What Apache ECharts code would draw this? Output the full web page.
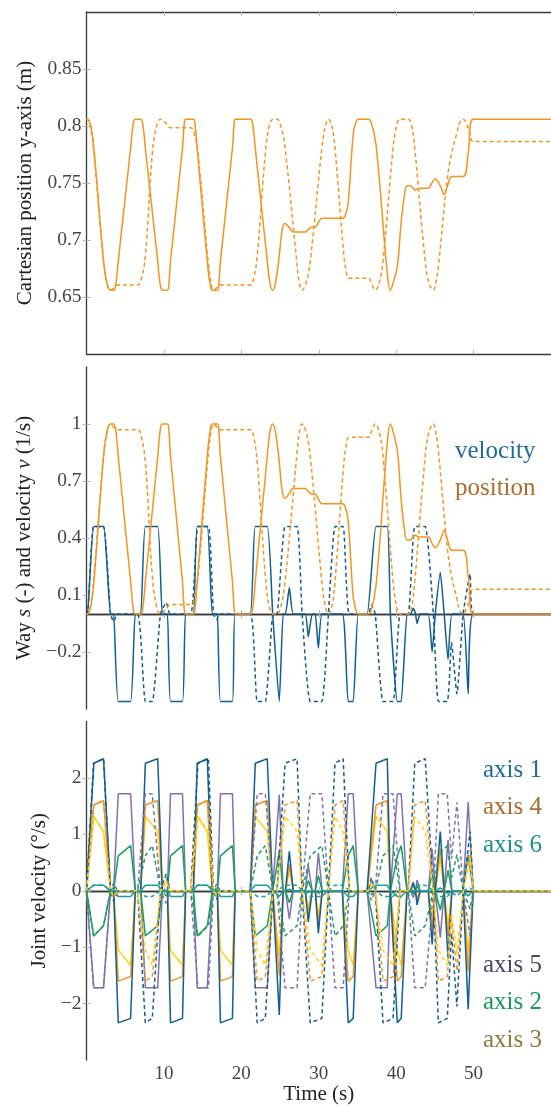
<!DOCTYPE html>
<html>
<head>
<meta charset="utf-8">
<script src="https://cdn.jsdelivr.net/npm/echarts@6/dist/echarts.min.js"></script>
<style>
html,body{margin:0;padding:0;background:#fff;}
#chart{width:551px;height:1106px;}
</style>
</head>
<body>
<div id="chart"></div>
<script>
// ---------- tick labels ----------
const X_TICKS = [10, 20, 30, 40, 50];
const Y1_TICKS = [0.65, 0.7, 0.75, 0.8, 0.85];
const Y2_TICKS = [-0.2, 0.1, 0.4, 0.7, 1];
const Y3_TICKS = [-2, -1, 0, 1, 2];

// ---------- panel 1 & 2: position (solid) ----------
const T_POS_SOLID = [0, 0.13, 0.55, 0.95, 2.2, 2.65, 3.1, 3.5, 3.8, 4.1, 5.7, 6.0, 6.3, 7.0, 7.3, 7.6, 9.2, 9.5, 9.8, 10.45, 10.65, 10.85, 12.4, 12.6, 12.8, 13.8, 14.05, 14.3, 15.6, 15.95, 16.25, 16.9, 17.1, 17.3, 18.85, 19.05, 19.2, 21.15, 21.5, 21.8, 23.35, 23.7, 24.05, 24.4, 24.9, 25.2, 25.55, 25.75, 26.2, 26.7, 28.25, 28.65, 29.15, 29.55, 29.95, 30.45, 33.05, 33.45, 33.8, 34.45, 34.8, 35.1, 36.25, 36.7, 37.4, 38.85, 39.25, 39.6, 40.15, 40.65, 41.05, 41.4, 41.85, 42.2, 42.5, 42.7, 43.1, 44.15, 44.65, 45.05, 45.7, 46.2, 46.7, 47.2, 48.65, 49.3, 49.95, 60];
const S_SOLID = [0, 0, 0.04, 0.17, 0.83, 0.96, 1, 1, 0.96, 0.83, 0.17, 0.04, 0, 0, 0.04, 0.17, 0.83, 0.96, 1, 1, 0.96, 0.83, 0.17, 0.04, 0, 0, 0.04, 0.17, 0.83, 0.96, 1, 1, 0.96, 0.83, 0.17, 0.04, 0, 0, 0.04, 0.17, 0.83, 0.96, 1, 0.96, 0.8, 0.67, 0.61, 0.612, 0.635, 0.66, 0.66, 0.645, 0.63, 0.63, 0.605, 0.58, 0.58, 0.56, 0.49, 0.09, 0.02, 0, 0, 0.01, 0.15, 0.9, 1, 0.96, 0.86, 0.6, 0.45, 0.39, 0.39, 0.405, 0.415, 0.41, 0.405, 0.405, 0.37, 0.35, 0.39, 0.44, 0.38, 0.335, 0.335, 0.2, 0, 0];
const Y_SOLID = [0.806, 0.806, 0.8, 0.7805, 0.6815, 0.662, 0.656, 0.656, 0.662, 0.6815, 0.7805, 0.8, 0.806, 0.806, 0.8, 0.7805, 0.6815, 0.662, 0.656, 0.656, 0.662, 0.6815, 0.7805, 0.8, 0.806, 0.806, 0.8, 0.7805, 0.6815, 0.662, 0.656, 0.656, 0.662, 0.6815, 0.7805, 0.8, 0.806, 0.806, 0.8, 0.7805, 0.6815, 0.662, 0.656, 0.662, 0.686, 0.7055, 0.7145, 0.7142, 0.7108, 0.707, 0.707, 0.7093, 0.7115, 0.7115, 0.7153, 0.719, 0.719, 0.722, 0.7325, 0.7925, 0.803, 0.806, 0.806, 0.8045, 0.7835, 0.671, 0.656, 0.662, 0.677, 0.716, 0.7385, 0.7475, 0.7475, 0.7453, 0.7438, 0.7445, 0.7453, 0.7453, 0.7505, 0.7535, 0.7475, 0.74, 0.749, 0.7558, 0.7558, 0.776, 0.806, 0.806];

// ---------- panel 1 & 2: position (dashed) ----------
const T_POS_DASH = [0, 0.13, 0.5, 0.9, 2.2, 2.65, 3.1, 3.5, 4.0, 6.6, 7.1, 7.6, 8.5, 9.05, 9.55, 10.3, 10.8, 13.45, 13.95, 14.4, 15.75, 16.1, 16.4, 16.8, 17.3, 21.15, 21.6, 22.05, 23.1, 23.6, 24.1, 24.6, 25.1, 25.65, 27.2, 27.5, 27.85, 28.35, 28.9, 30.4, 30.85, 31.25, 31.7, 32.1, 33.15, 33.55, 33.95, 36.4, 36.8, 37.3, 37.8, 38.3, 39.6, 40.05, 40.5, 41.55, 42.0, 42.4, 43.75, 44.25, 44.8, 45.1, 45.45, 46.6, 47.15, 47.85, 48.2, 48.65, 49.1, 49.55, 49.95, 60];
const S_DASH = [0, 0, 0.04, 0.17, 0.83, 0.96, 1, 0.985, 0.97, 0.97, 0.93, 0.8, 0.2, 0.04, 0, 0.025, 0.05, 0.05, 0.09, 0.2, 0.85, 0.96, 1, 0.985, 0.97, 0.97, 0.93, 0.8, 0.2, 0.04, 0, 0, 0.04, 0.17, 0.85, 0.96, 1, 0.96, 0.83, 0.17, 0.04, 0, 0.04, 0.17, 0.75, 0.89, 0.93, 0.93, 0.96, 1, 0.96, 0.83, 0.17, 0.04, 0, 0, 0.04, 0.17, 0.83, 0.96, 1, 0.96, 0.86, 0.35, 0.2, 0.08, 0.02, 0, 0.03, 0.09, 0.13, 0.13];
const Y_DASH = [0.806, 0.806, 0.8, 0.7805, 0.6815, 0.662, 0.656, 0.658, 0.6605, 0.6605, 0.6665, 0.686, 0.776, 0.8, 0.806, 0.8023, 0.7985, 0.7985, 0.7925, 0.776, 0.6785, 0.662, 0.656, 0.658, 0.6605, 0.6605, 0.6665, 0.686, 0.776, 0.8, 0.806, 0.806, 0.8, 0.7805, 0.6785, 0.662, 0.656, 0.662, 0.6815, 0.7805, 0.8, 0.806, 0.8, 0.7805, 0.6935, 0.6725, 0.6665, 0.6665, 0.662, 0.656, 0.662, 0.6815, 0.7805, 0.8, 0.806, 0.806, 0.8, 0.7805, 0.6815, 0.662, 0.656, 0.662, 0.677, 0.7535, 0.776, 0.794, 0.803, 0.806, 0.8015, 0.7925, 0.7865, 0.7865];

// ---------- velocity & joint velocities (solid) ----------
const T_SOLID = [0, 0.13, 0.95, 2.2, 3.1, 3.5, 4.1, 5.7, 6.3, 7.0, 7.6, 9.2, 9.8, 10.45, 10.85, 12.4, 12.8, 13.8, 14.3, 15.6, 16.25, 16.9, 17.3, 18.85, 19.2, 21.15, 21.8, 23.35, 24.05, 24.9, 25.4, 25.7, 26.2, 26.7, 28.25, 28.65, 29.15, 29.55, 29.95, 30.45, 33.05, 33.8, 34.45, 35.1, 36.25, 37.4, 38.85, 39.25, 40.15, 40.65, 41.4, 41.85, 42.2, 42.5, 42.7, 43.1, 44.15, 44.65, 45.05, 45.7, 46.2, 46.7, 47.2, 48.65, 49.3, 49.95, 60];
const V_SOLID = [0,0,0.46,0.46,0,0,-0.46,-0.46,0,0, 0.46,0.46,0,0,-0.46,-0.46,0,0,0.46,0.46, 0,0,-0.46,-0.46,0,0,0.46,0.46,0,-0.46, 0,0,0.14,0,0,-0.12,0,0,-0.18,0, 0,-0.46,-0.46,0,0,0.46,0.46,0,-0.46,-0.46, 0,0,0.03,0,-0.05,0,0,-0.2,0,0.22, 0,-0.24,0,0,-0.42,0,0];
const AX1_SOLID = [0,0,2.26,2.34,0,0,-2.34,-2.26,0,0, 2.26,2.34,0,0,-2.34,-2.26,0,0,2.26,2.34, 0,0,-2.34,-2.26,0,0,2.26,2.34,0,-2.2, 0,0,0.7,0,0,-0.55,0,0,-0.75,0, 0,-2.34,-2.26,0,0,2.26,2.34,0,-2.34,-2.26, 0,0,0.15,0,-0.25,0,0,-0.95,0,1.05, 0,-1.2,0,0,-2.1,0,0];
const AX2_SOLID = [0,0,-0.8,-0.62,0,0,0.62,0.8,0,0, -0.8,-0.62,0,0,0.62,0.8,0,0,-0.8,-0.62, 0,0,0.62,0.8,0,0,-0.8,-0.62,0,0.7, 0,0,-0.21,0,0,0.18,0,0,0.27,0, 0,0.62,0.8,0,0,-0.8,-0.62,0,0.62,0.8, 0,0,-0.05,0,0.08,0,0,0.3,0,-0.34, 0,0.36,0,0,0.64,0,0];
const AX3_SOLID = [0,0,1.32,1.05,0,0,-1.05,-1.32,0,0, 1.32,1.05,0,0,-1.05,-1.32,0,0,1.32,1.05, 0,0,-1.05,-1.32,0,0,1.32,1.05,0,-1.15, 0,0,0.36,0,0,-0.3,0,0,-0.45,0, 0,-1.05,-1.32,0,0,1.32,1.05,0,-1.05,-1.32, 0,0,0.08,0,-0.13,0,0,-0.5,0,0.58, 0,-0.62,0,0,-1.1,0,0];
const AX4_SOLID = [0,0,1.52,1.6,0,0,-1.6,-1.52,0,0, 1.52,1.6,0,0,-1.6,-1.52,0,0,1.52,1.6, 0,0,-1.6,-1.52,0,0,1.52,1.6,0,-1.5, 0,0,0.47,0,0,-0.4,0,0,-0.6,0, 0,-1.6,-1.52,0,0,1.52,1.6,0,-1.6,-1.52, 0,0,0.1,0,-0.17,0,0,-0.67,0,0.75, 0,-0.8,0,0,-1.42,0,0];
const AX5_SOLID = [0,0,-1.72,-1.72,0,0,1.72,1.72,0,0, -1.72,-1.72,0,0,1.72,1.72,0,0,-1.72,-1.72, 0,0,1.72,1.72,0,0,-1.72,-1.72,0,1.7, 0,0,-0.5,0,0,0.45,0,0,0.67,0, 0,1.72,1.72,0,0,-1.72,-1.72,0,1.72,1.72, 0,0,-0.12,0,0.19,0,0,0.74,0,-0.83, 0,0.9,0,0,1.57,0,0];
const AX6_SOLID = [0,0,0.1,0.1,0,0,-0.1,-0.1,0,0, 0.1,0.1,0,0,-0.1,-0.1,0,0,0.1,0.1, 0,0,-0.1,-0.1,0,0,0.1,0.1,0,-0.1, 0,0,0.03,0,0,-0.03,0,0,-0.04,0, 0,-0.1,-0.1,0,0,0.1,0.1,0,-0.1,-0.1, 0,0,0,0,0,0,0,-0.04,0,0.05, 0,-0.05,0,0,-0.09,0,0];

// ---------- velocity & joint velocities (dashed) ----------
const T_DASH = [0, 0.13, 0.9, 2.2, 3.1, 3.5, 4.0, 6.6, 7.6, 8.5, 9.55, 10.3, 10.8, 13.45, 14.4, 15.75, 16.4, 16.8, 17.3, 21.15, 22.05, 23.1, 24.1, 24.6, 25.65, 27.2, 27.85, 28.9, 30.4, 31.25, 32.1, 33.15, 33.95, 36.4, 36.8, 37.3, 38.3, 39.6, 40.5, 41.55, 42.4, 43.75, 44.8, 45.45, 46.6, 47.15, 47.85, 48.65, 49.55, 49.95, 60];
const V_DASH = [0,0,0.46,0.46,0,-0.04,0,0,-0.46,-0.46, 0,0.06,0,0,0.46,0.46,0,-0.03,0,0, -0.46,-0.46,0,0,0.46,0.46,0,-0.46,-0.46,0, 0.46,0.46,0,0,0.05,0,-0.46,-0.46,0,0, 0.46,0.46,0,-0.46,-0.46,-0.15,-0.42,0,0.21,0, 0];
const AX1_DASH = [0,0,2.26,2.34,0,-0.18,0,0,-2.34,-2.26, 0,0.3,0,0,2.26,2.34,0,-0.15,0,0, -2.34,-2.26,0,0,2.26,2.34,0,-2.34,-2.26,0, 2.26,2.34,0,0,0.23,0,-2.34,-2.26,0,0, 2.26,2.34,0,-2.34,-2.26,-0.75,-2.05,0,1.05,0, 0];
const AX2_DASH = [0,0,-0.8,-0.62,0,0.06,0,0,0.62,0.8, 0,-0.09,0,0,-0.8,-0.62,0,0.05,0,0, 0.62,0.8,0,0,-0.8,-0.62,0,0.62,0.8,0, -0.8,-0.62,0,0,-0.07,0,0.62,0.8,0,0, -0.8,-0.62,0,0.62,0.8,0.23,0.64,0,-0.32,0, 0];
const AX3_DASH = [0,0,1.32,1.05,0,-0.1,0,0,-1.05,-1.32, 0,0.16,0,0,1.32,1.05,0,-0.08,0,0, -1.05,-1.32,0,0,1.32,1.05,0,-1.05,-1.32,0, 1.32,1.05,0,0,0.12,0,-1.05,-1.32,0,0, 1.32,1.05,0,-1.05,-1.32,-0.4,-1.1,0,0.55,0, 0];
const AX4_DASH = [0,0,1.52,1.6,0,-0.12,0,0,-1.6,-1.52, 0,0.2,0,0,1.52,1.6,0,-0.1,0,0, -1.6,-1.52,0,0,1.52,1.6,0,-1.6,-1.52,0, 1.52,1.6,0,0,0.16,0,-1.6,-1.52,0,0, 1.52,1.6,0,-1.6,-1.52,-0.5,-1.42,0,0.72,0, 0];
const AX5_DASH = [0,0,-1.72,-1.72,0,0.14,0,0,1.72,1.72, 0,-0.22,0,0,-1.72,-1.72,0,0.12,0,0, 1.72,1.72,0,0,-1.72,-1.72,0,1.72,1.72,0, -1.72,-1.72,0,0,-0.17,0,1.72,1.72,0,0, -1.72,-1.72,0,1.72,1.72,0.57,1.57,0,-0.8,0, 0];
const AX6_DASH = [0,0,0.1,0.1,0,0,0,0,-0.1,-0.1, 0,0.01,0,0,0.1,0.1,0,0,0,0, -0.1,-0.1,0,0,0.1,0.1,0,-0.1,-0.1,0, 0.1,0.1,0,0,0.01,0,-0.1,-0.1,0,0, 0.1,0.1,0,-0.1,-0.1,-0.03,-0.09,0,0.05,0, 0];

// ---------- styling ----------
const FONT = '"Liberation Serif", "DejaVu Serif", serif';
const C = {
  orange: '#f7941d', blue: '#0f5e94', yellow: '#fdd31c', green: '#19a05a',
  purple: '#7e72b5', teal: '#1a9f9f'
};
const DASH = [4, 3];

function pairs(t, v) { return t.map((x, i) => [x, v[i]]); }
function fmt(v) { return String(v).replace('-', '\u2212'); }

const GRID_LEFT = 86.5, GRID_W = 465;
const grids = [
  { left: GRID_LEFT, top: 12, width: GRID_W, height: 342 },
  { left: GRID_LEFT, top: 367, width: GRID_W, height: 342 },
  { left: GRID_LEFT, top: 721.5, width: GRID_W, height: 342 }
];

const axisLineStyle = { color: '#3a3a3a', width: 1.3 };
const tickStyle = { color: '#b4b4b4', width: 1 };

function xAxes(gi, showLabels) {
  return [
    {
      type: 'value', gridIndex: gi, position: 'bottom', min: 0, max: 60,
      axisLine: { show: true, lineStyle: axisLineStyle },
      axisTick: { show: true, inside: true, length: 4, lineStyle: tickStyle, customValues: X_TICKS },
      axisLabel: { show: showLabels, customValues: X_TICKS, fontFamily: FONT, fontSize: 19, color: '#444', margin: 4 },
      splitLine: { show: false },
      name: showLabels ? 'Time (s)' : '', nameLocation: 'middle', nameGap: 21,
      nameTextStyle: { fontFamily: FONT, fontSize: 21, color: '#222' }
    },
    {
      type: 'value', gridIndex: gi, position: 'top', min: 0, max: 60,
      axisLine: { show: true, lineStyle: axisLineStyle },
      axisTick: { show: true, inside: true, length: 4, lineStyle: tickStyle, customValues: X_TICKS },
      axisLabel: { show: false }, splitLine: { show: false }
    }
  ];
}

function yAxes(gi, min, max, ticks, name, gap) {
  return [
    {
      type: 'value', gridIndex: gi, position: 'left', min: min, max: max,
      axisLine: { show: true, lineStyle: axisLineStyle },
      axisTick: { show: true, inside: true, length: 4, lineStyle: tickStyle, customValues: ticks },
      axisLabel: { show: true, customValues: ticks, formatter: fmt, fontFamily: FONT, fontSize: 19.5, color: '#444', margin: 5 },
      splitLine: { show: false },
      name: name, nameLocation: 'middle', nameGap: gap, nameRotate: 90,
      nameTextStyle: {
        fontFamily: FONT, fontSize: 21, color: '#222',
        rich: { i: { fontFamily: FONT, fontSize: 21, fontStyle: 'italic', color: '#222' } }
      }
    },
    {
      type: 'value', gridIndex: gi, position: 'right', min: min, max: max,
      axisLine: { show: false },
      axisTick: { show: true, inside: true, length: 4, lineStyle: tickStyle, customValues: ticks },
      axisLabel: { show: false }, splitLine: { show: false }
    }
  ];
}

function line(name, t, v, color, dashed, xi, yi, smooth) {
  return {
    name: name, type: 'line', xAxisIndex: xi, yAxisIndex: yi,
    data: pairs(t, v), symbol: 'none', smooth: smooth || false,
    lineStyle: { color: color, width: 1.5, type: dashed ? DASH : 'solid' },
    emphasis: { disabled: true }
  };
}

const series = [
  // panel 1
  line('y dashed', T_POS_DASH, Y_DASH, C.orange, true, 0, 0, 0.4),
  line('y solid', T_POS_SOLID, Y_SOLID, C.orange, false, 0, 0, 0.4),
  // panel 2
  line('v solid', T_SOLID, V_SOLID, C.blue, false, 2, 2, 0.15),
  line('v dashed', T_DASH, V_DASH, C.blue, true, 2, 2, 0.15),
  line('s dashed', T_POS_DASH, S_DASH, C.orange, true, 2, 2, 0.4),
  line('s solid', T_POS_SOLID, S_SOLID, C.orange, false, 2, 2, 0.4),
  // panel 3 solid
  line('axis 5', T_SOLID, AX5_SOLID, C.purple, false, 4, 4),
  line('axis 2', T_SOLID, AX2_SOLID, C.green, false, 4, 4),
  line('axis 3', T_SOLID, AX3_SOLID, C.yellow, false, 4, 4),
  line('axis 4', T_SOLID, AX4_SOLID, C.orange, false, 4, 4),
  line('axis 1', T_SOLID, AX1_SOLID, C.blue, false, 4, 4),
  line('axis 6', T_SOLID, AX6_SOLID, C.teal, false, 4, 4),
  // panel 3 dashed
  line('axis 5 d', T_DASH, AX5_DASH, C.purple, true, 4, 4),
  line('axis 2 d', T_DASH, AX2_DASH, C.green, true, 4, 4),
  line('axis 1 d', T_DASH, AX1_DASH, C.blue, true, 4, 4),
  line('axis 4 d', T_DASH, AX4_DASH, C.orange, true, 4, 4),
  line('axis 6 d', T_DASH, AX6_DASH, C.teal, true, 4, 4),
  line('axis 3 d', T_DASH, AX3_DASH, C.yellow, true, 4, 4)
];

function label(text, x, y, color) {
  return {
    type: 'text', x: x, y: y, z: 100,
    style: { text: text, fill: color, font: '25px ' + FONT, verticalAlign: 'middle', align: 'left' }
  };
}

const option = {
  animation: false,
  backgroundColor: '#ffffff',
  grid: grids,
  xAxis: [].concat(xAxes(0, false), xAxes(1, false), xAxes(2, true)),
  yAxis: [].concat(
    yAxes(0, 0.6, 0.9, Y1_TICKS, 'Cartesian position y-axis (m)', 42),
    yAxes(1, -0.5, 1.3, Y2_TICKS, 'Way {i|s} (-) and velocity {i|v} (1/s)', 52),
    yAxes(2, -3, 3, Y3_TICKS, 'Joint velocity (°/s)', 35)
  ),
  series: series,
  graphic: [
    label('velocity', 455, 451, '#1f6a9e'),
    label('position', 455, 488, '#b26b2e'),
    label('axis 1', 483, 770, '#1f6a9e'),
    label('axis 4', 483, 807, '#b26b2e'),
    label('axis 6', 483, 845, '#1a918c'),
    label('axis 5', 483, 965, '#4b4670'),
    label('axis 2', 483, 1002, '#16995a'),
    label('axis 3', 483, 1040, '#8c7c3e')
  ]
};

const chart = echarts.init(document.getElementById('chart'), null, { renderer: 'canvas' });
chart.setOption(option);
</script>
</body>
</html>
